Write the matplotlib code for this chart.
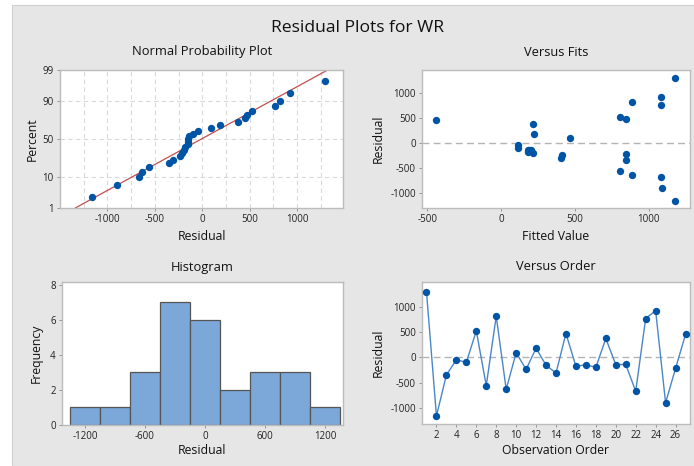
import statistics
import matplotlib
matplotlib.use('Agg')
import matplotlib.pyplot as plt
import matplotlib.patches as mpatches
import numpy as np

plt.rcParams['font.family'] = ['Open Sans', 'DejaVu Sans']
plt.rcParams['axes.unicode_minus'] = False

# residuals in observation order
residuals = [1300, -1160, -349, -46, -99, 526, -559, 816, -632, 92, -237, 184,
             -155, -309, 474, -178, -145, -197, 375, -145, -138, -671, 770,
             928, -901, -217, 455]
fitted = [1180, 1180, 849, 113, 113, 804, 804, 887, 887, 470, 413, 223,
          205, 404, 849, 180, 190, 215, 217, 185, 200, 1081, 1081, 1081,
          1090, 849, -438]
hist_edges = [-1350, -1050, -750, -450, -150, 150, 450, 750, 1050, 1350]
prob_ticks = [1, 10, 50, 90, 99]

BLUE = '#0054a6'
BG = '#e6e6e6'
TXT = '#111111'
TICK = '#222222'

fig = plt.figure(figsize=(6.94, 4.66), dpi=100, facecolor='white')
fig.patches.append(mpatches.Rectangle((12 / 694, 0), 1, 1 - 5 / 466,
                                      transform=fig.transFigure,
                                      facecolor=BG, edgecolor='#d0d0d0',
                                      linewidth=0.8, zorder=-10))


def px(x0, y0, x1, y1):
    return [x0 / 694, 1 - y1 / 466, (x1 - x0) / 694, (y1 - y0) / 466]


def style(ax):
    ax.set_facecolor('white')
    for s in ax.spines.values():
        s.set_color('#bcbcbc')
        s.set_linewidth(1.0)
    ax.tick_params(labelsize=7, colors=TICK, length=2.5, width=0.6,
                   pad=2, direction='out')
    ax.tick_params(color='#888888')


nd = statistics.NormalDist()
z_of = lambda p: nd.inv_cdf(p / 100.0)

# normal probability plot
ax1 = fig.add_axes(px(60, 70, 343, 208))
style(ax1)
n = len(residuals)
srt = np.sort(residuals)
zs = [nd.inv_cdf((i + 1 - 0.3) / (n + 0.4)) for i in range(n)]
mu = np.mean(residuals)
sd = np.std(residuals, ddof=1)
zl = np.array([z_of(1), z_of(99)])
for gx in np.arange(-1250, 1500, 250):
    ax1.axvline(gx, color='#d9d9d9', linestyle=(0, (4, 3)), linewidth=0.8, zorder=0)
for gp in [10, 50, 90]:
    ax1.axhline(z_of(gp), color='#d9d9d9', linestyle=(0, (4, 3)), linewidth=0.8, zorder=0)
ax1.plot(mu + sd * zl, zl, color='#c0504d', linewidth=0.9, zorder=2)
ax1.scatter(srt, zs, s=28, color=BLUE, zorder=3, linewidths=0)
ax1.set_xlim(-1500, 1485)
ax1.set_ylim(z_of(1), z_of(99))
ax1.set_xticks([-1000, -500, 0, 500, 1000])
ax1.set_yticks([z_of(p) for p in prob_ticks])
ax1.set_yticklabels([str(p) for p in prob_ticks])

# versus fits
ax2 = fig.add_axes(px(422, 70, 690, 208))
style(ax2)
ax2.axhline(0, color='#b4b4b4', linestyle=(0, (5, 3)), linewidth=1.0, zorder=1)
ax2.scatter(fitted, residuals, s=28, color=BLUE, zorder=3, linewidths=0)
ax2.set_xlim(-536, 1280)
ax2.set_ylim(-1300, 1460)
ax2.set_xticks([-500, 0, 500, 1000])
ax2.set_yticks([-1000, -500, 0, 500, 1000])

# histogram
ax3 = fig.add_axes(px(62, 282, 343, 425))
style(ax3)
ax3.hist(residuals, bins=hist_edges, color='#7ba7d9', edgecolor='#555555',
         linewidth=0.9, zorder=2)
ax3.set_xlim(-1430, 1380)
ax3.set_ylim(0, 8.15)
ax3.set_xticks([-1200, -600, 0, 600, 1200])
ax3.set_yticks([0, 2, 4, 6, 8])

# versus order
ax4 = fig.add_axes(px(422, 282, 690, 424))
style(ax4)
order = np.arange(1, n + 1)
ax4.axhline(0, color='#b4b4b4', linestyle=(0, (5, 3)), linewidth=1.0, zorder=1)
ax4.plot(order, residuals, color='#4a86c8', linewidth=1.0, zorder=2)
ax4.scatter(order, residuals, s=28, color=BLUE, zorder=3, linewidths=0)
ax4.set_xlim(0.55, 27.45)
ax4.set_ylim(-1320, 1495)
ax4.set_xticks(np.arange(2, 27, 2))
ax4.set_yticks([-1000, -500, 0, 500, 1000])

# titles and labels
fig.text(358 / 694, 1 - 28 / 466, 'Residual Plots for WR', ha='center', va='center',
         fontsize=12.6, color=TXT)
for x, y, t in [(202, 52, 'Normal Probability Plot'), (556, 52, 'Versus Fits'),
                (202, 267, 'Histogram'), (556, 267, 'Versus Order')]:
    fig.text(x / 694, 1 - y / 466, t, ha='center', va='center', fontsize=9.3, color=TXT)
for x, y, t in [(202, 236, 'Residual'), (556, 236, 'Fitted Value'),
                (202, 451, 'Residual'), (556, 451, 'Observation Order')]:
    fig.text(x / 694, 1 - y / 466, t, ha='center', va='center', fontsize=8.8, color=TXT)
for x, y, t in [(32, 139, 'Percent'), (378, 139, 'Residual'),
                (36, 353, 'Frequency'), (378, 353, 'Residual')]:
    fig.text(x / 694, 1 - y / 466, t, ha='center', va='center', fontsize=8.8,
             color=TXT, rotation=90)

fig.savefig('out.png', dpi=100, facecolor='white')
